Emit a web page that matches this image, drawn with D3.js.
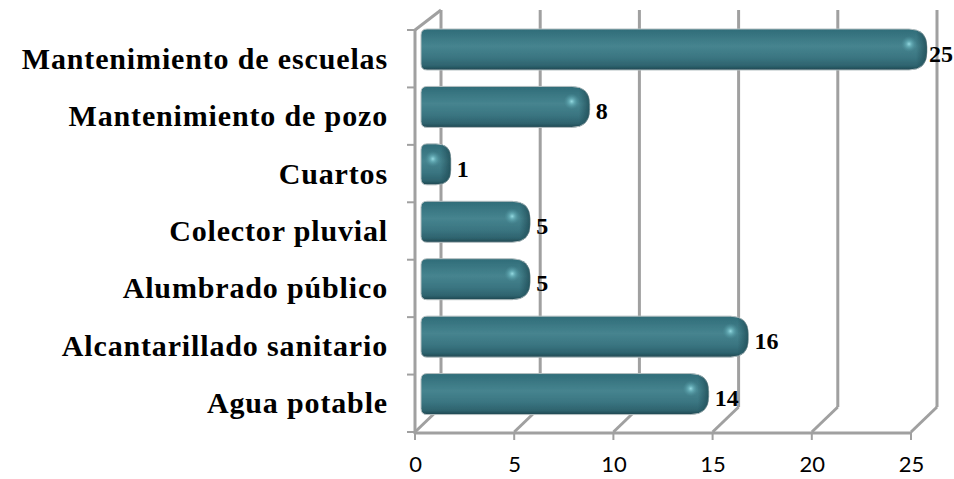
<!DOCTYPE html>
<html><head><meta charset="utf-8">
<script src="https://cdn.jsdelivr.net/npm/d3@7"></script>
<style>html,body{margin:0;padding:0;background:#fff}svg{display:block}</style></head>
<body><svg id="c" width="954" height="479"></svg>
<script>
const categories=["Mantenimiento de escuelas","Mantenimiento de pozo","Cuartos","Colector pluvial","Alumbrado público","Alcantarillado sanitario","Agua potable"];
const values=[25,8,1,5,5,16,14];
const xTicks=[0,5,10,15,20,25];
const svg=d3.select("#c");
const x=d3.scaleLinear().domain([0,25]).range([415,911]);
const y=d3.scaleBand().domain(categories).range([30,432]).paddingInner(0).paddingOuter(0);
const depthX=26,depthY=25,grey="#a0a0a0";
const defs=svg.append("defs");
const lg=defs.append("linearGradient").attr("id","barV").attr("x1",0).attr("y1",0).attr("x2",0).attr("y2",1);
[[0,"#2f6c78"],[.12,"#36737f"],[.42,"#46848f"],[.7,"#3a7581"],[.9,"#2e636e"],[1,"#1f4650"]].forEach(s=>lg.append("stop").attr("offset",s[0]).attr("stop-color",s[1]));
const eg=defs.append("linearGradient").attr("id","barE").attr("x1",0).attr("y1",0).attr("x2",1).attr("y2",0);
[[0,"#1e4a54",0],[.5,"#1e4a54",0],[1,"#1e4a54",.8]].forEach(s=>eg.append("stop").attr("offset",s[0]).attr("stop-color",s[1]).attr("stop-opacity",s[2]));
const sp=defs.append("radialGradient").attr("id","spot");
[[0,"#9adfe6",.95],[.35,"#72bdc6",.65],[1,"#4f949f",0]].forEach(s=>sp.append("stop").attr("offset",s[0]).attr("stop-color",s[1]).attr("stop-opacity",s[2]));
defs.append("filter").attr("id","soft").append("feGaussianBlur").attr("stdDeviation",0.7);

const g=svg.append("g").attr("filter","url(#soft)");
const grid=g.append("g").attr("stroke",grey).attr("stroke-width",3).attr("fill","none");
grid.selectAll("line.back").data(xTicks).join("line").attr("class","back")
 .attr("x1",d=>x(d)+depthX).attr("x2",d=>x(d)+depthX).attr("y1",10).attr("y2",432-depthY);
grid.selectAll("line.floor").data(xTicks).join("line").attr("class","floor")
 .attr("x1",d=>x(d)).attr("x2",d=>x(d)+depthX).attr("y1",432).attr("y2",432-depthY);
grid.append("line").attr("x1",x(0)).attr("y1",30).attr("x2",x(0)+depthX).attr("y2",10);
const ax=g.append("g").attr("stroke",grey).attr("stroke-width",3);
ax.append("line").attr("x1",x(0)).attr("x2",x(0)).attr("y1",30).attr("y2",434);
ax.append("line").attr("x1",x(0)-1).attr("x2",x(25)+1).attr("y1",433).attr("y2",433);
ax.selectAll("line.yt").data(y.domain().concat("__end")).join("line").attr("class","yt")
 .attr("x1",x(0)-8).attr("x2",x(0)).attr("stroke-width",2)
 .attr("y1",d=>d==="__end"?432:y(d)).attr("y2",d=>d==="__end"?432:y(d));
ax.selectAll("line.xt").data(xTicks).join("line").attr("class","xt")
 .attr("x1",d=>x(d)).attr("x2",d=>x(d)).attr("y1",433).attr("y2",440).attr("stroke-width",2);
const startX=421,capExtra=16,barH=41;
const rows=g.selectAll("g.bar").data(categories.map((c,i)=>({c,v:values[i]}))).join("g").attr("class","bar")
 .attr("transform",d=>`translate(0,${y(d.c)-1})`);
const barPath=d=>{const e=x(d.v)+capExtra,r=Math.min(18,(e-startX)/2),l=6;
 return `M${startX+l},0H${e-r}Q${e},0 ${e},${r}V${barH-r}Q${e},${barH} ${e-r},${barH}H${startX+l}Q${startX},${barH} ${startX},${barH-l}V${l}Q${startX},0 ${startX+l},0Z`;};
rows.append("path").attr("d",barPath).attr("fill","url(#barV)").attr("stroke","#b4bfc1").attr("stroke-width",1);
rows.append("rect").attr("x",d=>Math.max(startX,x(d.v)+capExtra-22)).attr("width",d=>Math.min(22,x(d.v)+capExtra-startX)).attr("y",0).attr("height",barH)
 .attr("clip-path",(d,i)=>{const id="cp"+i;defs.append("clipPath").attr("id",id).append("path").attr("d",barPath(d));return `url(#${id})`;})
 .attr("fill","url(#barE)");
rows.append("ellipse").attr("cx",d=>x(d.v)+capExtra-18<startX+8?startX+12:x(d.v)+capExtra-18).attr("cy",15).attr("rx",8).attr("ry",8).attr("fill","url(#spot)");
const serif='"Liberation Serif","DejaVu Serif",serif';
svg.selectAll("text.cat").data(categories).join("text").attr("class","cat")
 .attr("x",388).attr("y",d=>y(d)+y.bandwidth()/2+10).attr("text-anchor","end")
 .attr("font-family",serif).attr("font-weight","bold").attr("font-size",30).attr("letter-spacing",0.85).attr("fill","#000").text(d=>d);
const vals=svg.selectAll("text.val").data(values).join("text").attr("class","val")
 .attr("y",(d,i)=>y(categories[i])+y.bandwidth()/2+3).attr("text-anchor","start")
 .attr("font-family",serif).attr("font-weight","bold").attr("font-size",24).attr("fill","#000").text(d=>d);
vals.attr("x",function(d){return Math.min(x(d)+capExtra+6,953-this.getComputedTextLength());});
const xa=svg.append("g").attr("transform","translate(0,433)").call(d3.axisBottom(x).tickValues(xTicks).tickSize(0).tickPadding(23));
xa.select(".domain").remove();
xa.selectAll("text").attr("font-family",'Lato,"Noto Sans",sans-serif').attr("font-size",22).attr("fill","#000");
</script></body></html>
